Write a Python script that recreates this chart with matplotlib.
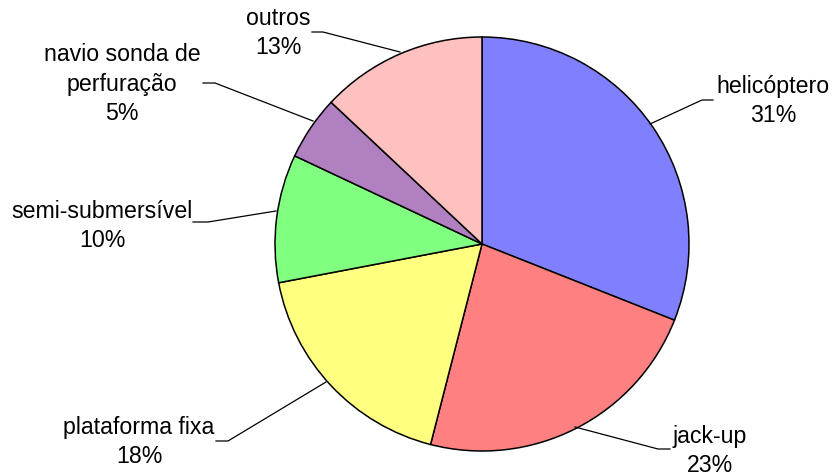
import matplotlib.pyplot as plt

plt.rcParams['font.family'] = ['Liberation Sans', 'DejaVu Sans']

# Share of each type of unit
categories = ['helicóptero', 'jack-up', 'plataforma fixa', 'semi-submersível',
              'navio sonda de\nperfuração', 'outros']
shares = [31, 23, 18, 10, 5, 13]
colors = ['#8080FF', '#FF8080', '#FFFF80', '#80FF80', '#B080C0', '#FFC0C0']

W, H = 833, 477
fig = plt.figure(figsize=(W / 100, H / 100), dpi=100)
ax = fig.add_axes([0, 0, 1, 1])


def py(y):
    # pixel rows counted from the top
    return H - y


ax.pie(shares, colors=colors, startangle=90, counterclock=False,
       center=(482, py(245)), radius=207,
       wedgeprops=dict(edgecolor='black', linewidth=1.1), frame=True)
ax.set_xlim(0, W)
ax.set_ylim(0, H)
ax.axis('off')

# label centre, leader line (text end -> knee -> slice edge)
label_pos = [(773, 101), (710, 451), (139, 442), (102, 226), (122, 84), (278, 33)]
leaders = [
    [(713, 101), (702, 101), (650, 125)],
    [(670, 450), (658, 450), (575, 428)],
    [(216, 442), (228, 442), (326, 383)],
    [(193, 223), (208, 223), (276, 212)],
    [(203, 84), (215, 84), (313, 122)],
    [(312, 33), (323, 33), (400, 53)],
]

for name, val, (x, y), pts in zip(categories, shares, label_pos, leaders):
    ax.text(x, py(y), f'{name}\n{val}%', ha='center', va='center',
            fontsize=16.7, linespacing=1.38, color='black')
    ax.plot([p[0] for p in pts], [py(p[1]) for p in pts],
            color='black', linewidth=0.9)

fig.savefig('out.png', dpi=100)
